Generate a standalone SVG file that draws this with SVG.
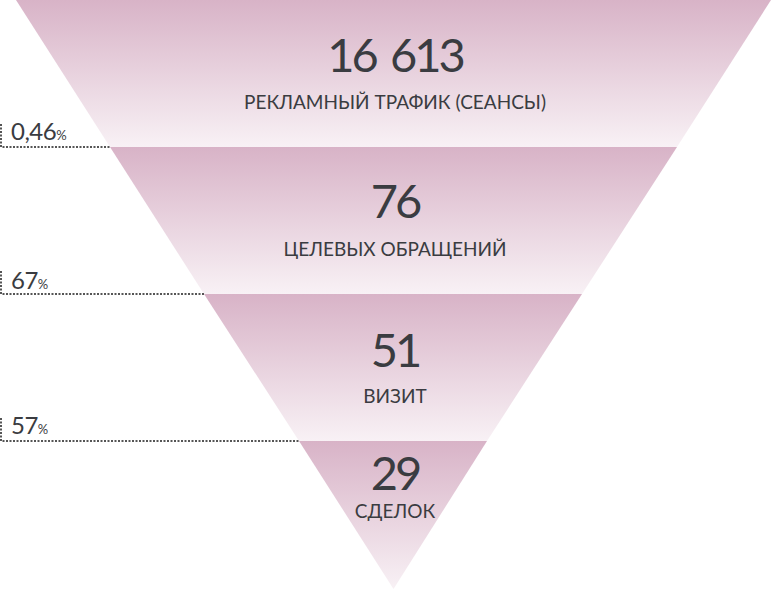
<svg xmlns="http://www.w3.org/2000/svg" width="771" height="589" viewBox="0 0 771 589">
<defs>
<linearGradient id="g" x1="0" y1="0" x2="0" y2="1">
<stop offset="0" stop-color="#d8b3c7"/>
<stop offset="1" stop-color="#f8f1f5"/>
</linearGradient>
</defs>
<style>
.seg{fill:url(#g)}
.num{font-family:Lato,"Open Sans","Liberation Sans",sans-serif;font-size:47px;fill:#3a3c41;text-anchor:middle;letter-spacing:-3px;word-spacing:5px}
.lab{font-family:Lato,"Open Sans","Liberation Sans",sans-serif;font-size:19px;fill:#3a3c41;text-anchor:middle}
.pct{font-family:Lato,"Open Sans","Liberation Sans",sans-serif;font-size:24px;fill:#3a3c41;letter-spacing:-0.5px}
.pct tspan{font-size:13px;letter-spacing:0}
.dot{stroke:#555;stroke-width:2;stroke-dasharray:2 1.5;fill:none}
</style>
<g id="stage1">
<polygon class="seg" points="16,0 771,0 677,147 110,147"/>
<text class="num" x="395" y="72">16 613</text>
<text class="lab" x="395" y="109">РЕКЛАМНЫЙ ТРАФИК (СЕАНСЫ)</text>
</g>
<g id="stage2">
<polygon class="seg" points="110,147 677,147 582,294 204,294"/>
<text class="num" x="395" y="218">76</text>
<text class="lab" x="395" y="256">ЦЕЛЕВЫХ ОБРАЩЕНИЙ</text>
</g>
<g id="stage3">
<polygon class="seg" points="204,294 582,294 487,441 299,441"/>
<text class="num" x="395" y="367">51</text>
<text class="lab" x="395" y="403">ВИЗИТ</text>
</g>
<g id="stage4">
<polygon class="seg" points="299,441 487,441 393.5,589"/>
<text class="num" x="395" y="490">29</text>
<text class="lab" x="395" y="518">СДЕЛОК</text>
</g>
<g id="connectors">
<path class="dot" d="M1,124 V147 H110"/>
<path class="dot" d="M1,271 V294 H204"/>
<path class="dot" d="M1,418 V441 H299"/>
</g>
<g id="rates">
<text class="pct" x="11" y="140">0,46<tspan>%</tspan></text>
<text class="pct" x="11" y="289">67<tspan>%</tspan></text>
<text class="pct" x="11" y="434">57<tspan>%</tspan></text>
</g>
</svg>
